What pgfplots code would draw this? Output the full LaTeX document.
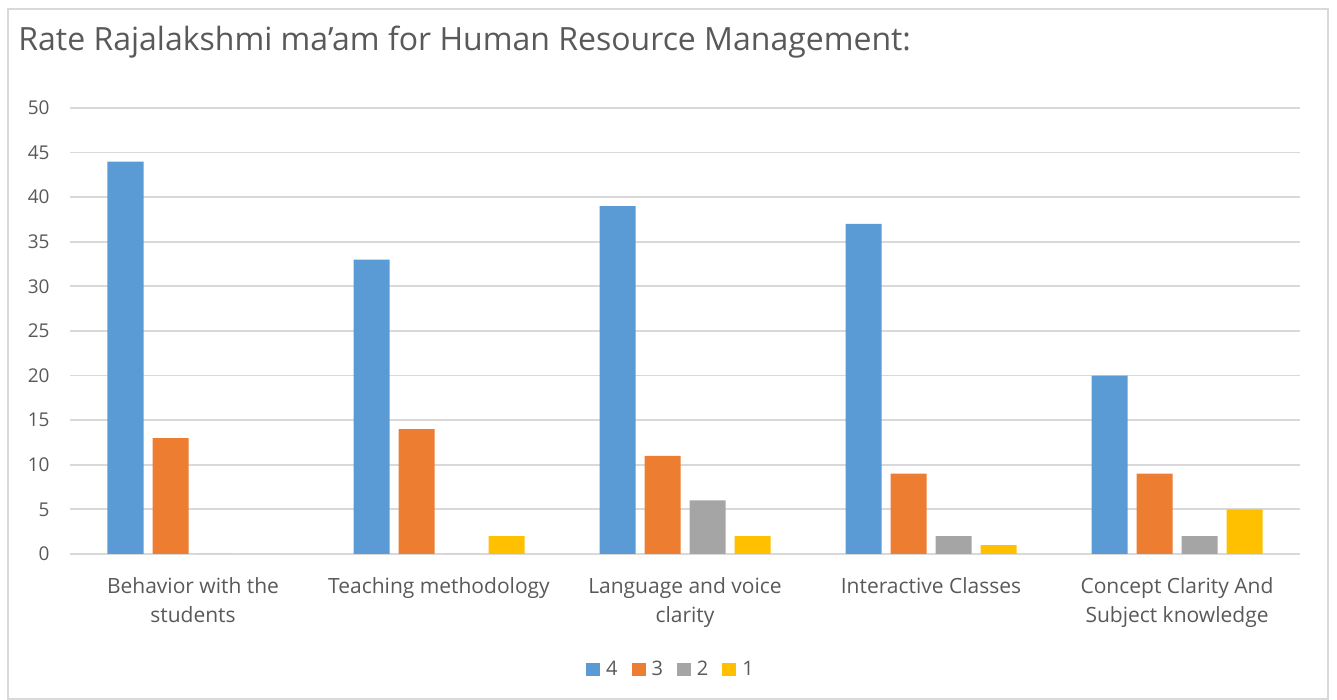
\documentclass[border=0pt]{standalone}
\usepackage{fontspec}
\setmainfont{Open Sans}
\usepackage{pgfplots}
\pgfplotsset{compat=1.18}
\definecolor{txt}{HTML}{595959}
\definecolor{grd}{HTML}{D9D9D9}
\definecolor{cFour}{HTML}{5B9BD5}
\definecolor{cThree}{HTML}{ED7D31}
\definecolor{cTwo}{HTML}{A5A5A5}
\definecolor{cOne}{HTML}{FFC000}
\begin{document}
\begin{tikzpicture}
% frame and page size (1px = 0.5pt)
\path[use as bounding box] (0,0) rectangle (668.5pt,350pt);
\draw[grd,line width=0.9pt] (4pt,0.5pt) rectangle (664pt,345.5pt);
\node[anchor=base west,inner sep=0pt,text=txt,font=\fontsize{16}{19}\selectfont] at (9pt,324.5pt) {Rate Rajalakshmi ma'am for Human Resource Management:};
\begin{axis}[
  at={(35pt,73pt)}, anchor=south west,
  scale only axis, width=615pt, height=223pt,
  ybar=4.5pt, bar width=18pt,
  xmin=-0.5, xmax=4.5, ymin=0, ymax=50,
  xtick=data,
  xticklabels={{Behavior with the\\students},{Teaching methodology},{Language and voice\\clarity},{Interactive Classes},{Concept Clarity And\\Subject knowledge}},
  xticklabel style={align=center,anchor=north,inner sep=0pt,yshift=-11.5pt,text=txt,font=\fontsize{10.5}{14.5}\selectfont},
  ytick={0,5,...,50},
  yticklabel style={anchor=east,inner sep=0pt,xshift=-10pt,text=txt,font=\fontsize{9.5}{11}\selectfont},
  /pgf/number format/assume math mode=true,
  major tick length=0pt,
  axis line style={draw=none},
  ymajorgrids, grid style={grd,line width=0.9pt},
  legend style={at={(0.4894,-0.259)},anchor=center,draw=none,legend columns=-1,
    font=\fontsize{10}{11}\selectfont,text=txt,
    /tikz/every odd column/.append style={column sep=1pt},
    /tikz/every even column/.append style={column sep=5pt}},
  legend image code/.code={\fill[#1] (0pt,-3.25pt) rectangle (7pt,3.25pt);},
]
\addplot[fill=cFour,draw=none] coordinates {(0,44)(1,33)(2,39)(3,37)(4,20)};
\addplot[fill=cThree,draw=none] coordinates {(0,13)(1,14)(2,11)(3,9)(4,9)};
\addplot[fill=cTwo,draw=none] coordinates {(0,0)(1,0)(2,6)(3,2)(4,2)};
\addplot[fill=cOne,draw=none] coordinates {(0,0)(1,2)(2,2)(3,1)(4,5)};
\legend{4,3,2,1}
\end{axis}
\end{tikzpicture}
\end{document}
